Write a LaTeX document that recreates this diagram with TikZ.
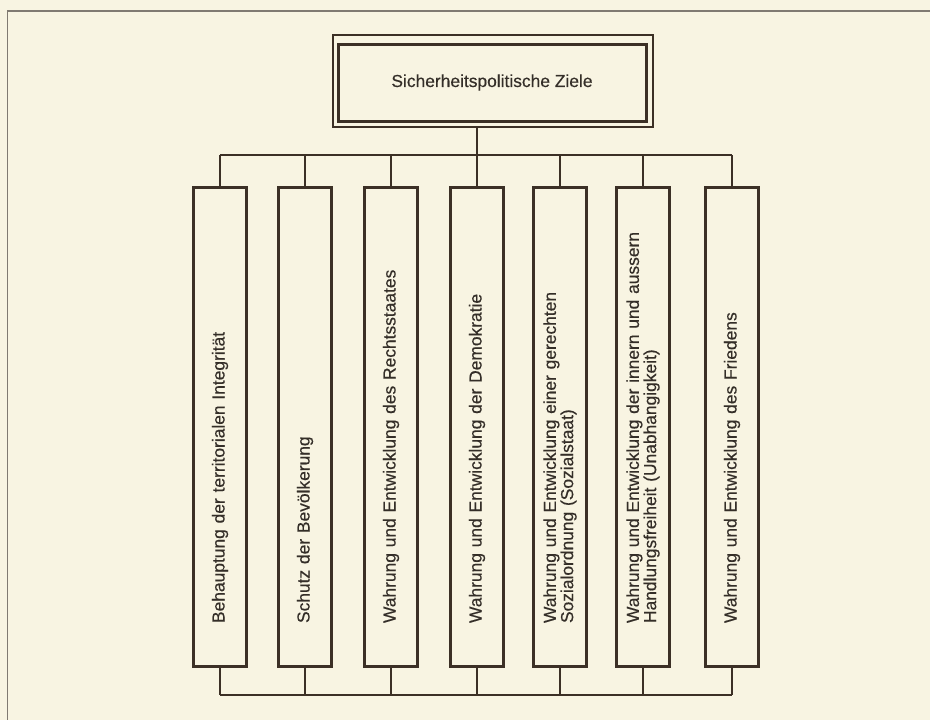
\documentclass[tikz,border=0pt]{standalone}
\usepackage{fontspec}
\newfontfamily\diagfont[FakeBold=0.4]{Liberation Sans}
\definecolor{paper}{RGB}{248,244,226}
\definecolor{ink}{RGB}{60,48,38}
\definecolor{txt}{RGB}{52,46,40}
\definecolor{frame}{RGB}{128,122,114}
\tikzset{
  goal/.style={draw=ink, line width=3pt, rotate=90, minimum width=479pt,
    minimum height=53pt, inner xsep=43pt, inner ysep=0pt, text width=393pt,
    align=left, text=txt, font=\diagfont\fontsize{17.4}{15.5}\selectfont},
  topin/.style={draw=ink, line width=3pt, minimum width=308pt, minimum height=77pt,
    inner sep=0pt, text=txt, font=\diagfont\fontsize{17.4}{20}\selectfont},
  topout/.style={draw=ink, line width=1.8pt, minimum width=320pt, minimum height=92pt, inner sep=0pt},
  conn/.style={draw=ink, line width=1.5pt},
  framel/.style={draw=frame, line width=1.2pt}
}
\begin{document}
\begin{tikzpicture}[x=1pt,y=-1pt]
\fill[paper] (0,0) rectangle (930,720);
\useasboundingbox (0,0) rectangle (930,720);
\draw[framel] (7.5,725) -- (7.5,11) -- (935,11);
\node[topout] (topouter) at (493,81) {};
\node[topin] (top) at (492,82.5) {Sicherheitspolitische Ziele};
\node[goal] (b1) at (220,426.5) {Behauptung der territorialen Integrität};
\node[goal] (b2) at (305,426.5) {Schutz der Bevölkerung};
\node[goal] (b3) at (391,426.5) {Wahrung und Entwicklung des Rechtsstaates};
\node[goal] (b4) at (477,426.5) {Wahrung und Entwicklung der Demokratie};
\node[goal] (b5) at (560,426.5) {Wahrung und Entwicklung einer gerechten\\Sozialordnung (Sozialstaat)};
\node[goal] (b6) at (643,426.5) {Wahrung und Entwicklung der innern und aussern\\Handlungsfreiheit (Unabhangigkeit)};
\node[goal] (b7) at (732,426.5) {Wahrung und Entwicklung des Friedens};
\coordinate (bustop) at (0,155);
\coordinate (busbot) at (0,695);
\draw[conn] (topouter.south -| b4.east) -- (b4.east);
\draw[conn] (b1.east |- bustop) -- (b7.east |- bustop);
\draw[conn] (b1.west |- busbot) -- (b7.west |- busbot);
\foreach \b in {b1,b2,b3,b5,b6,b7}{
  \draw[conn] (\b.east) -- (\b.east |- bustop);
}
\foreach \b in {b1,b2,b3,b4,b5,b6,b7}{
  \draw[conn] (\b.west) -- (\b.west |- busbot);
}
\end{tikzpicture}
\end{document}
